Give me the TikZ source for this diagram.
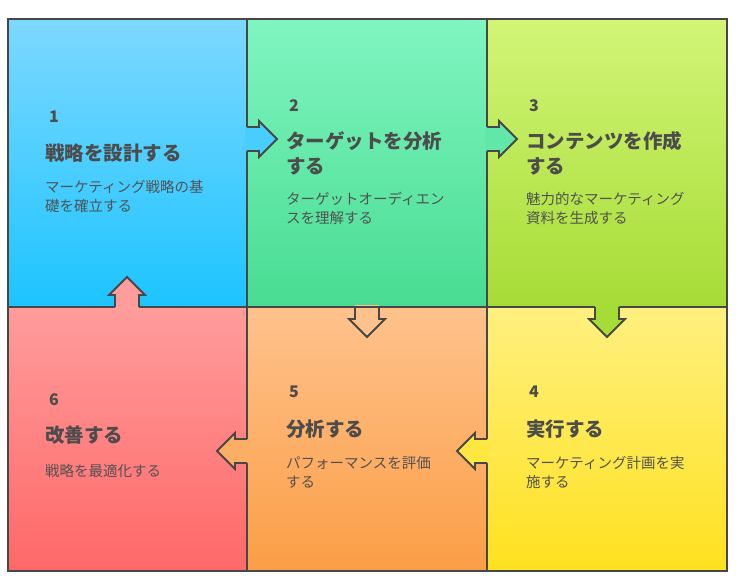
\documentclass[tikz,border=0pt]{standalone}
\usepackage{fontspec}
\setmainfont{Noto Sans CJK JP}
\begin{document}
\begin{tikzpicture}[x=1pt,y=-1pt,
  ttl/.style={anchor=north west,font=\bfseries\fontsize{19.5}{25}\selectfont,text=black!70,align=left,inner sep=0},
  num/.style={anchor=north west,font=\bfseries\fontsize{16}{18}\selectfont,text=black!70,inner sep=0},
  dsc/.style={anchor=north west,font=\fontsize{14.5}{19}\selectfont,text=black!68,align=left,inner sep=0},
  ln/.style={draw=black!72,line width=1.8pt,line join=miter}]
\useasboundingbox (0,0) rectangle (737,579);
\definecolor{aT}{HTML}{7DD8FF}\definecolor{aB}{HTML}{1CC4FF}
\definecolor{bT}{HTML}{80F5C0}\definecolor{bB}{HTML}{48DC92}
\definecolor{cT}{HTML}{D2F577}\definecolor{cB}{HTML}{A6DC36}
\definecolor{dT}{HTML}{FFF080}\definecolor{dB}{HTML}{FFE11E}
\definecolor{eT}{HTML}{FFC28C}\definecolor{eB}{HTML}{FB9E46}
\definecolor{fT}{HTML}{FF9C9C}\definecolor{fB}{HTML}{FF6868}
\shade[top color=aT,bottom color=aB] (8,19) rectangle (247,307);
\shade[top color=bT,bottom color=bB] (247,19) rectangle (487,307);
\shade[top color=cT,bottom color=cB] (487,19) rectangle (727,307);
\shade[top color=fT,bottom color=fB] (8,307) rectangle (247,571);
\shade[top color=eT,bottom color=eB] (247,307) rectangle (487,571);
\shade[top color=dT,bottom color=dB] (487,307) rectangle (727,571);
\draw[ln] (8,19) rectangle (727,571);
\draw[ln] (247,19) -- (247,571) (487,19) -- (487,571) (8,307) -- (727,307);
% tabs
\def\rtab#1#2#3{\fill[#3] (#1-2,#2-12) -- (#1+12,#2-12) -- (#1+12,#2-18) -- (#1+30,#2) -- (#1+12,#2+18) -- (#1+12,#2+12) -- (#1-2,#2+12) -- cycle;
 \draw[ln] (#1,#2-12) -- (#1+12,#2-12) -- (#1+12,#2-18) -- (#1+30,#2) -- (#1+12,#2+18) -- (#1+12,#2+12) -- (#1,#2+12);}
\def\ltab#1#2#3{\fill[#3] (#1+2,#2-12) -- (#1-12,#2-12) -- (#1-12,#2-18) -- (#1-30,#2) -- (#1-12,#2+18) -- (#1-12,#2+12) -- (#1+2,#2+12) -- cycle;
 \draw[ln] (#1,#2-12) -- (#1-12,#2-12) -- (#1-12,#2-18) -- (#1-30,#2) -- (#1-12,#2+18) -- (#1-12,#2+12) -- (#1,#2+12);}
\def\dtab#1#2#3{\fill[#3] (#1-12,#2-2) -- (#1-12,#2+12) -- (#1-18,#2+12) -- (#1,#2+30) -- (#1+18,#2+12) -- (#1+12,#2+12) -- (#1+12,#2-2) -- cycle;
 \draw[ln] (#1-12,#2) -- (#1-12,#2+12) -- (#1-18,#2+12) -- (#1,#2+30) -- (#1+18,#2+12) -- (#1+12,#2+12) -- (#1+12,#2);}
\def\utab#1#2#3{\fill[#3] (#1-12,#2+2) -- (#1-12,#2-12) -- (#1-18,#2-12) -- (#1,#2-30) -- (#1+18,#2-12) -- (#1+12,#2-12) -- (#1+12,#2+2) -- cycle;
 \draw[ln] (#1-12,#2) -- (#1-12,#2-12) -- (#1-18,#2-12) -- (#1,#2-30) -- (#1+18,#2-12) -- (#1+12,#2-12) -- (#1+12,#2);}
\rtab{247}{139}{aT!45!aB}
\rtab{487}{139}{bT!45!bB}
\dtab{367}{307}{eT}
\draw[ln] (352,307) -- (382,307);
\dtab{607}{307}{cB}
\ltab{487}{451}{dT!35!dB}
\ltab{247}{451}{eT!45!eB}
\utab{127}{307}{fT}
% texts
\node[num] (n1) at (49,111) {1};
\node[ttl] (t1) at (45,144) {戦略を設計する};
\node[dsc] (d1) at (45,180) {マーケティング戦略の基\\礎を確立する};
\node[num] (n2) at (289,99) {2};
\node[ttl] (t2) at (286,131) {ターゲットを分析\\する};
\node[dsc] (d2) at (286,192) {ターゲットオーディエン\\スを理解する};
\node[num] (n3) at (529,99) {3};
\node[ttl] (t3) at (526,131) {コンテンツを作成\\する};
\node[dsc] (d3) at (526,192) {魅力的なマーケティング\\資料を生成する};
\node[num] (n4) at (529,386) {4};
\node[ttl] (t4) at (526,420) {実行する};
\node[dsc] (d4) at (526,456) {マーケティング計画を実\\施する};
\node[num] (n5) at (289,386) {5};
\node[ttl] (t5) at (286,420) {分析する};
\node[dsc] (d5) at (286,456) {パフォーマンスを評価\\する};
\node[num] (n6) at (49,393) {6};
\node[ttl] (t6) at (45,426) {改善する};
\node[dsc] (d6) at (45,464) {戦略を最適化する};
\end{tikzpicture}
\end{document}
